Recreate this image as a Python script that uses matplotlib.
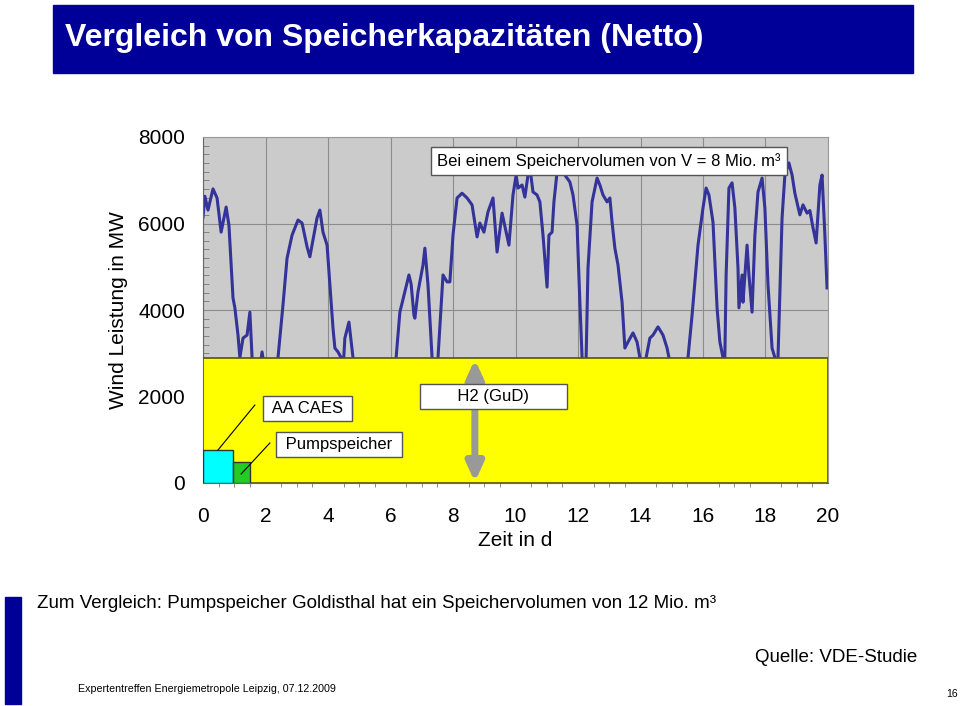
import matplotlib.pyplot as plt
from matplotlib.patches import Rectangle
from matplotlib.ticker import MultipleLocator

plt.rcParams['font.family'] = ['Liberation Sans', 'DejaVu Sans']

# wind power over 20 days, values in MW
days = [0.0, 0.06, 0.16, 0.32, 0.45, 0.58, 0.74, 0.83, 0.96, 1.02, 1.12, 1.18, 1.28,
        1.41, 1.50, 1.57, 1.73, 1.89, 2.14, 2.40, 2.56, 2.69, 2.85, 3.04, 3.17, 3.33,
        3.42, 3.65, 3.74, 3.84, 3.97, 4.06, 4.16, 4.22, 4.32, 4.42, 4.48, 4.54, 4.67,
        4.80, 5.18, 5.66, 6.05, 6.18, 6.30, 6.46, 6.59, 6.66, 6.75, 6.78, 6.88, 7.04,
        7.10, 7.20, 7.33, 7.42, 7.52, 7.68, 7.81, 7.90, 8.00, 8.13, 8.29, 8.45, 8.61,
        8.77, 8.86, 8.99, 9.12, 9.28, 9.41, 9.57, 9.70, 9.79, 9.92, 10.02, 10.08,
        10.21, 10.30, 10.40, 10.46, 10.56, 10.69, 10.78, 10.88, 11.01, 11.07, 11.17,
        11.23, 11.33, 11.46, 11.58, 11.74, 11.84, 11.97, 12.06, 12.13, 12.19, 12.26,
        12.32, 12.45, 12.61, 12.70, 12.80, 12.93, 13.02, 13.09, 13.18, 13.28, 13.41,
        13.50, 13.60, 13.76, 13.89, 13.98, 14.08, 14.18, 14.30, 14.40, 14.56, 14.72,
        14.85, 14.91, 15.10, 15.33, 15.52, 15.65, 15.84, 16.00, 16.10, 16.19, 16.32,
        16.45, 16.54, 16.64, 16.69, 16.74, 16.83, 16.93, 17.02, 17.12, 17.15, 17.25,
        17.28, 17.41, 17.47, 17.57, 17.66, 17.76, 17.89, 17.98, 18.08, 18.21, 18.30,
        18.35, 18.40, 18.53, 18.62, 18.75, 18.85, 18.94, 19.10, 19.20, 19.33, 19.42,
        19.52, 19.62, 19.74, 19.81, 19.90, 19.97]
wind_mw = [6150, 6630, 6310, 6800, 6590, 5800, 6380, 5960, 4280, 4050, 3420, 2900, 3350,
           3420, 3950, 2900, 2200, 3030, 1800, 2900, 4120, 5200, 5730, 6080, 6010, 5460,
           5230, 6130, 6310, 5800, 5500, 4580, 3580, 3120, 3030, 2900, 2600, 3350, 3720,
           2900, 1500, 1200, 2000, 2900, 3950, 4420, 4810, 4600, 3880, 3810, 4420, 5040,
           5430, 4580, 2900, 2200, 2900, 4810, 4650, 4650, 5730, 6590, 6700, 6590, 6430,
           5690, 6010, 5800, 6270, 6590, 5340, 6240, 5800, 5500, 6660, 7120, 6820,
           6890, 6610, 7120, 7300, 6730, 6660, 6500, 5730, 4530, 5730, 5800,
           6500, 7190, 7500, 7120, 6960, 6660, 5960, 4180, 2900, 2000, 2900,
           4970, 6500, 7050, 6890, 6660, 6500, 6590, 6030, 5430, 5040, 4180,
           3120, 3260, 3470, 3260, 2900, 2300, 2900, 3350, 3420, 3610, 3420,
           3120, 2900, 2000, 1600, 2900, 3880, 5500, 6360, 6820, 6660, 6030,
           4050, 3260, 2900, 2500, 4810, 6820, 6940, 6360, 4970, 4050, 4810,
           4180, 5500, 4810, 3950, 5730, 6730, 7050, 6360, 4580, 3120, 2900,
           2400, 2900, 6130, 7120, 7400, 7120, 6700, 6200, 6430, 6240, 6300,
           5900, 5550, 6890, 7120, 5730, 4510]

# storage blocks: (start day, length in days, height in MW)
h2_block = (0, 20, 2900)
caes_block = (0, 0.96, 760)
pump_block = (0.96, 0.54, 490)

x_ticks = list(range(0, 21, 2))
y_ticks = [0, 2000, 4000, 6000, 8000]

navy = '#000099'

fig = plt.figure(figsize=(9.6, 7.06), dpi=100)

# title banner
fig.patches.append(Rectangle((53 / 960, 1 - 73 / 706), 860 / 960, 68 / 706,
                             transform=fig.transFigure, color=navy, zorder=0))
fig.text(65 / 960, 1 - 38 / 706, 'Vergleich von Speicherkapazitäten (Netto)',
         color='white', fontsize=23, fontweight='bold', va='center', ha='left')

ax = fig.add_axes([203 / 960, 1 - 483 / 706, 625 / 960, 346 / 706])
ax.set_facecolor('#cbcbcb')
ax.set_xlim(0, 20)
ax.set_ylim(0, 8000)
ax.set_xticks(x_ticks)
ax.set_yticks(y_ticks)
ax.yaxis.set_minor_locator(MultipleLocator(200))
ax.xaxis.set_minor_locator(MultipleLocator(0.5))
ax.grid(True, color='#8c8c8c', linewidth=0.8, zorder=0)
ax.set_axisbelow(True)
ax.tick_params(axis='x', which='major', length=0, pad=17, labelsize=15)
ax.tick_params(axis='x', which='minor', length=3, direction='out', color='#777777')
ax.tick_params(axis='y', which='major', length=0, pad=13, labelsize=15)
ax.tick_params(axis='y', which='minor', length=4, direction='in', color='#777777')
for side in ['top', 'right']:
    ax.spines[side].set_color('#9a9a9a')
for side in ['left', 'bottom']:
    ax.spines[side].set_color('#666666')

ax.plot(days, wind_mw, color='#333399', linewidth=2.2, zorder=2)

ax.add_patch(Rectangle((h2_block[0], 0), h2_block[1], h2_block[2],
                       facecolor='#ffff00', edgecolor='#555500', linewidth=1.2, zorder=3))
ax.add_patch(Rectangle((caes_block[0], 0), caes_block[1], caes_block[2],
                       facecolor='#00ffff', edgecolor='#333333', linewidth=1, zorder=4))
ax.add_patch(Rectangle((pump_block[0], 0), pump_block[1], pump_block[2],
                       facecolor='#22cc22', edgecolor='#333333', linewidth=1, zorder=4))

# gray double arrow for H2
ax.annotate('', xy=(8.7, 2860), xytext=(8.7, 20),
            arrowprops=dict(arrowstyle='<|-|>,head_width=0.5,head_length=1.1',
                            color='#999999', linewidth=5, shrinkA=0, shrinkB=0), zorder=5)

box = dict(boxstyle='square,pad=0.3', facecolor='white', edgecolor='#555555', linewidth=1)
ax.text(12.99, 7445, 'Bei einem Speichervolumen von V = 8 Mio. m³', fontsize=12,
        ha='center', va='center', bbox=dict(boxstyle='square,pad=0.35', facecolor='white',
                                            edgecolor='#555555', linewidth=1), zorder=6)
ax.text(9.3, 2011, '       H2 (GuD)       ', fontsize=12, ha='center', va='center',
        bbox=box, zorder=6)
ax.text(3.34, 1711, ' AA CAES ', fontsize=12, ha='center', va='center', bbox=box, zorder=6)
ax.text(4.34, 890, ' Pumpspeicher ', fontsize=12, ha='center', va='center', bbox=box,
        zorder=6)
ax.plot([0.48, 1.66], [763, 1803], color='black', linewidth=0.8, zorder=6)
ax.plot([1.22, 2.14], [208, 925], color='black', linewidth=0.8, zorder=6)

ax.set_xlabel('Zeit in d', fontsize=15, labelpad=4)
ax.set_ylabel('Wind Leistung in MW', fontsize=15, labelpad=7)

# footer
fig.patches.append(Rectangle((5 / 960, 1 - 704 / 706), 16 / 960, 107 / 706,
                             transform=fig.transFigure, color=navy, zorder=0))
fig.text(37 / 960, 1 - 604 / 706,
         'Zum Vergleich: Pumpspeicher Goldisthal hat ein Speichervolumen von 12 Mio. m³',
         fontsize=13.5, va='center', ha='left')
fig.text(917 / 960, 1 - 657 / 706, 'Quelle: VDE-Studie', fontsize=13.5, va='center',
         ha='right')
fig.text(78 / 960, 1 - 689 / 706, 'Expertentreffen Energiemetropole Leipzig, 07.12.2009',
         fontsize=7.7, va='center', ha='left')
fig.text(960 / 960 - 0.002, 1 - 694 / 706, '16', fontsize=7.5, va='center', ha='right')

fig.savefig('out.png', dpi=100)
